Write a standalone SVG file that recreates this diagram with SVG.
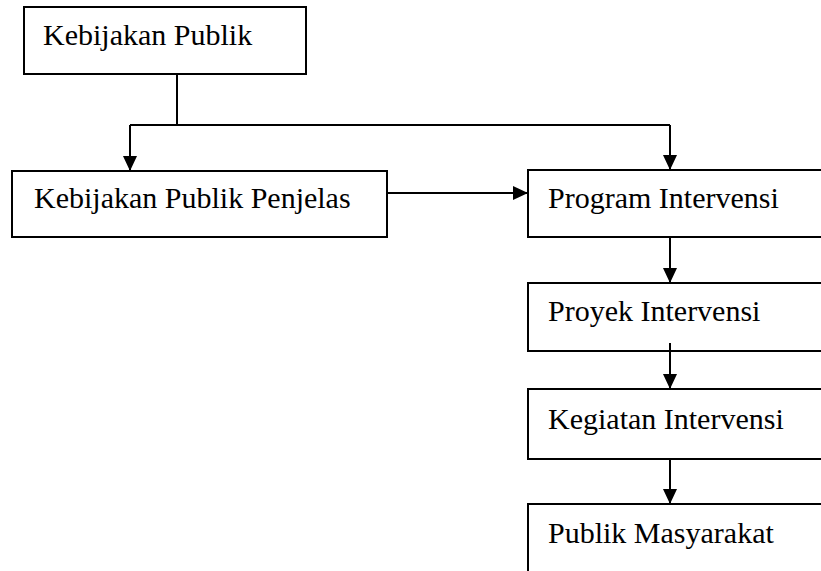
<svg xmlns="http://www.w3.org/2000/svg" width="821" height="571" viewBox="0 0 821 571">
<style>
.box{fill:#fff;stroke:#000;stroke-width:2}
.lbl{font-family:"Liberation Serif","Times New Roman",serif;font-size:30px;fill:#000}
.ln{fill:none;stroke:#000;stroke-width:2}
</style>
<defs>
<marker id="ah" markerUnits="userSpaceOnUse" markerWidth="16" markerHeight="14" refX="15" refY="7" orient="auto">
<path d="M0,0 L15,7 L0,14 Z" fill="#000"/>
</marker>
</defs>
<rect width="821" height="571" fill="#fff"/>
<g id="n1"><rect class="box" x="24" y="7" width="282" height="67"/><text class="lbl" x="43" y="45">Kebijakan Publik</text></g>
<g id="n2"><rect class="box" x="12" y="171" width="375" height="66"/><text class="lbl" x="34" y="208">Kebijakan Publik Penjelas</text></g>
<g id="n3"><rect class="box" x="528" y="170" width="310" height="67"/><text class="lbl" x="548" y="208">Program Intervensi</text></g>
<g id="n4"><rect class="box" x="528" y="283" width="310" height="68"/><text class="lbl" x="548" y="321">Proyek Intervensi</text></g>
<g id="n5"><rect class="box" x="528" y="389" width="310" height="70"/><text class="lbl" x="548" y="429">Kegiatan Intervensi</text></g>
<g id="n6"><rect class="box" x="528" y="504" width="310" height="80"/><text class="lbl" x="548" y="543">Publik Masyarakat</text></g>
<g id="connectors">
<path class="ln" d="M177,74 V125"/>
<path class="ln" d="M130,125 H670"/>
<path class="ln" d="M130,125 V171" marker-end="url(#ah)"/>
<path class="ln" d="M670,125 V170" marker-end="url(#ah)"/>
<path class="ln" d="M387,193 H528" marker-end="url(#ah)"/>
<path class="ln" d="M670,237 V283" marker-end="url(#ah)"/>
<path class="ln" d="M670,343 V389" marker-end="url(#ah)"/>
<path class="ln" d="M670,459 V504" marker-end="url(#ah)"/>
</g>
</svg>
